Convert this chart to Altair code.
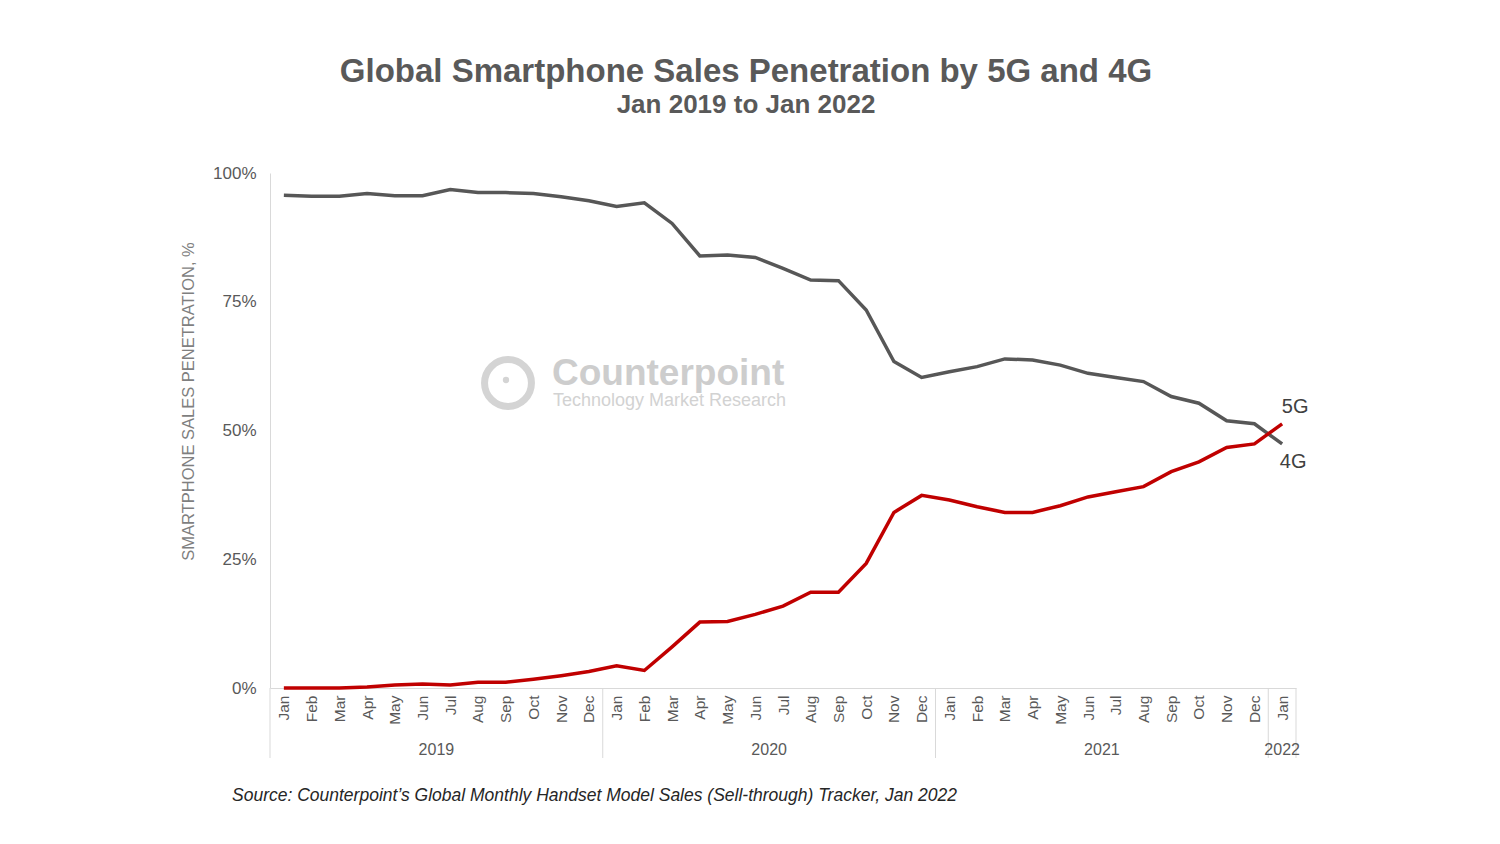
import altair as alt
import pandas as pd

months = ["Jan", "Feb", "Mar", "Apr", "May", "Jun", "Jul", "Aug", "Sep", "Oct", "Nov", "Dec"]
years = ["2019", "2020", "2021", "2022"]
months_per_year = [12, 12, 12, 1]

share_4g = [95.7, 95.5, 95.5, 96.0, 95.6, 95.6, 96.8, 96.2, 96.2, 96.0, 95.4, 94.6,
            93.5, 94.2, 90.2, 83.9, 84.1, 83.6, 81.5, 79.2, 79.1, 73.4, 63.4, 60.3,
            61.4, 62.4, 63.9, 63.7, 62.7, 61.1, 60.3, 59.5, 56.6, 55.3, 51.9, 51.3,
            47.4]
share_5g = [0.0, 0.0, 0.0, 0.2, 0.6, 0.8, 0.6, 1.1, 1.1, 1.7, 2.4, 3.2,
            4.3, 3.4, 8.0, 12.8, 12.9, 14.3, 15.9, 18.6, 18.6, 24.2, 34.1, 37.4,
            36.5, 35.2, 34.1, 34.1, 35.4, 37.1, 38.1, 39.1, 42.0, 43.9, 46.7, 47.4,
            51.3]

rows = []
for i, v in enumerate(share_4g):
    rows.append({"idx": i, "series": "4G", "value": v})
for i, v in enumerate(share_5g):
    rows.append({"idx": i, "series": "5G", "value": v})
df = pd.DataFrame(rows)

# year groups under the month axis
year_rows, sep_rows = [], [{"idx": -0.5}]
start = 0
for yr, n in zip(years, months_per_year):
    year_rows.append({"idx": start + (n - 1) / 2, "year": yr})
    start += n
    sep_rows.append({"idx": start - 0.5})
year_df = pd.DataFrame(year_rows)
sep_df = pd.DataFrame(sep_rows)

W, H = 1026, 515
FONT = "Liberation Sans"
GREY = "#595959"
n_months = len(share_4g)
xscale = alt.Scale(domain=[-0.5, n_months - 0.5], nice=False, zero=False)
yscale = alt.Scale(domain=[0, 100], nice=False)
month_js = "[" + ",".join("'%s'" % m for m in months) + "]"

x_main = alt.X(
    "idx:Q", scale=xscale,
    axis=alt.Axis(values=list(range(n_months)), labelExpr=month_js + "[datum.value % 12]",
                  labelAngle=270, ticks=False, grid=False, title=None,
                  domainColor="#d9d9d9", labelFontSize=15.5, labelColor=GREY,
                  labelFont=FONT, labelPadding=7, labelOverlap=False),
)
y_main = alt.Y(
    "value:Q", scale=yscale,
    axis=alt.Axis(values=[0, 25, 50, 75, 100], labelExpr="datum.value + '%'",
                  ticks=False, grid=False, domainColor="#d9d9d9",
                  labelFontSize=17, labelColor=GREY, labelFont=FONT, labelPadding=14,
                  title="SMARTPHONE  SALES PENETRATION, %", titleFont=FONT,
                  titleFontSize=16.5, titleFontWeight="normal", titleColor="#7f7f7f",
                  titleX=-82, titleY=228, titleBaseline="middle"),
)

one = pd.DataFrame({"k": [0]})

# watermark
logo_ring = alt.Chart(one).mark_point(shape="circle", filled=False, size=2200,
                                      strokeWidth=7, color="#d4d4d4", opacity=1).encode(
    x=alt.value(238), y=alt.value(210))
logo_dot = alt.Chart(one).mark_point(shape="circle", filled=True, size=40,
                                     color="#d4d4d4", opacity=1).encode(
    x=alt.value(236), y=alt.value(207))
wm_big = alt.Chart(one).mark_text(text="Counterpoint", font=FONT, fontSize=37,
                                  fontWeight="bold", color="#cdcdcd", align="left",
                                  baseline="middle").encode(x=alt.value(282), y=alt.value(201))
wm_small = alt.Chart(one).mark_text(text="Technology Market Research", font=FONT, fontSize=18,
                                    color="#d2d2d2", align="left",
                                    baseline="middle").encode(x=alt.value(283), y=alt.value(228))

lines = alt.Chart(df).mark_line(strokeWidth=3.5).encode(
    x=x_main, y=y_main,
    color=alt.Color("series:N", scale=alt.Scale(domain=["4G", "5G"], range=["#575757", "#c00000"]),
                    legend=None),
    order="idx:Q",
)

last = df[df["idx"] == n_months - 1]
lab_5g = alt.Chart(last[last["series"] == "5G"]).mark_text(
    font=FONT, fontSize=20, color="#404040", dx=13, dy=-17).encode(
    x=x_main, y=y_main, text="series:N")
lab_4g = alt.Chart(last[last["series"] == "4G"]).mark_text(
    font=FONT, fontSize=20, color="#404040", dx=11, dy=18).encode(
    x=x_main, y=y_main, text="series:N")

seps = alt.Chart(sep_df).mark_rule(color="#d9d9d9", strokeWidth=1).encode(
    x=x_main, y=alt.value(H), y2=alt.value(H + 70))
year_text = alt.Chart(year_df).mark_text(font=FONT, fontSize=16, color=GREY).encode(
    x=x_main, y=alt.value(H + 62), text="year:N")

title = alt.Chart(one).mark_text(text="Global Smartphone Sales Penetration by 5G and 4G",
                                 font=FONT, fontSize=33, fontWeight="bold", color=GREY,
                                 baseline="middle").encode(x=alt.value(476), y=alt.value(-101))
subtitle = alt.Chart(one).mark_text(text="Jan 2019 to Jan 2022", font=FONT, fontSize=26,
                                    fontWeight="bold", color=GREY,
                                    baseline="middle").encode(x=alt.value(476), y=alt.value(-68))
source = alt.Chart(one).mark_text(
    text="Source: Counterpoint\u2019s Global Monthly Handset Model Sales (Sell-through) Tracker, Jan 2022",
    font=FONT, fontSize=17.5, fontStyle="italic", color="#262626", align="left",
    baseline="middle").encode(x=alt.value(-38), y=alt.value(623))

chart = alt.layer(
    logo_ring, logo_dot, wm_big, wm_small, lines, lab_5g, lab_4g,
    seps, year_text, title, subtitle, source,
).properties(
    width=W,
    height=H,
    padding={"left": 262, "top": 165, "right": 180, "bottom": 140},
    autosize=alt.AutoSizeParams(type="none"),
).configure_view(stroke=None)

chart.save("out.html", embed_options={"renderer": "svg", "actions": False})
